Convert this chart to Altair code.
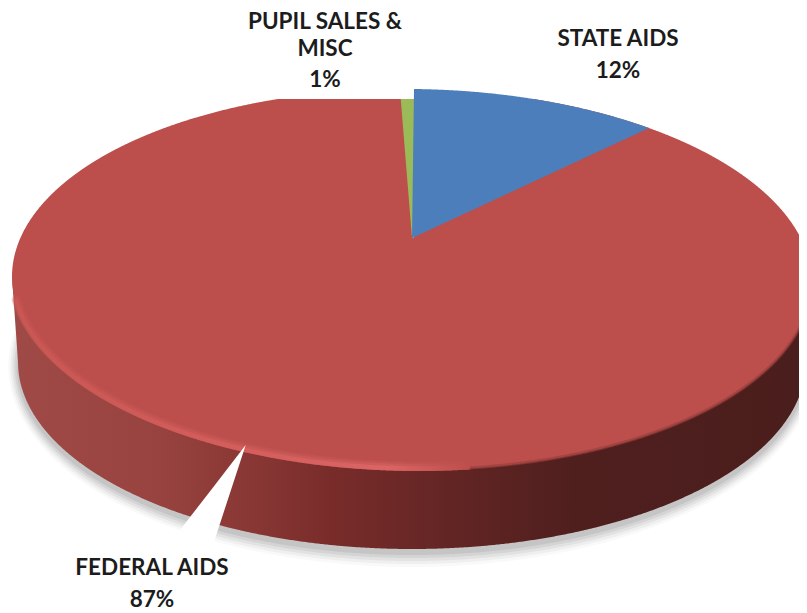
import numpy as np
import pandas as pd
import altair as alt

# ---- chart values ----
categories = ["STATE AIDS", "FEDERAL AIDS", "PUPIL SALES & MISC"]
shares = [12.4, 87.0, 0.6]          # slice sizes
share_labels = ["12%", "87%", "1%"]
colors = ["#4C7EBB", "#BC4F4C", "#9BBB59"]

label_lines = ["PUPIL SALES &", "MISC", "1%", "STATE AIDS", "12%", "FEDERAL AIDS", "87%"]
label_x = [325, 325, 325, 618, 618, 152, 152]
label_y = [22, 49, 80, 39, 71, 568, 600]

# ---- view geometry of the tilted disc (picture pixels) ----
XMAX, H = 799, 613
XC, YC, RX, RY, TILT = 412.0, 280.0, 400.0, 191.0, 0.008
BXC, BYC, BRX, BRY = 412.0, 362.0, 394.0, 187.0
APEX_X, APEX_Y = 412.0, 238.0
CUT_Y = 99.0

X = alt.X("x:Q", scale=alt.Scale(domain=[8, XMAX], nice=False, zero=False), axis=None)
Y = alt.Y("y:Q", scale=alt.Scale(domain=[H, 8], nice=False, zero=False), axis=None)


def half(x, xc, rx, ry):
    return ry * np.sqrt(np.clip(1 - ((x - xc) / rx) ** 2, 0, 1))


def upper(x):
    return YC - half(x, XC, RX, RY) + TILT * (x - XC)


def lower(x):
    return YC + half(x, XC, RX, RY) + TILT * (x - XC)


def xs(a, b, n=500):
    # denser near the ends so that the round edges stay smooth
    t = (1 - np.cos(np.linspace(0, np.pi, n))) / 2
    return a + (b - a) * t


def rim_point(pct):
    # position on the disc edge after going pct percent clockwise from the top
    c = 131.1 / 610.7
    th = np.radians(pct * 3.6)
    u, v = np.sin(th), np.cos(th)
    d = 1 + c * v
    R = 398.0 * np.sqrt(1 - c * c)
    return XC + R * u / d, (-131.1 * v + APEX_Y) / d


def area(df, **kw):
    return alt.Chart(df).mark_area(clip=True, interpolate="linear", **kw).encode(
        x=X, y=Y, y2=alt.Y2("y2:Q")
    )


layers = []

# soft shadow below the disc
for k, op in zip([14, 11, 8, 5, 2], [0.025, 0.04, 0.05, 0.06, 0.07]):
    x = xs(BXC - BRX - k * 0.7, BXC + BRX + k * 0.7)
    h = half(x, BXC, BRX + k * 0.7, BRY + k)
    layers.append(area(pd.DataFrame({"x": x, "y": BYC + 4 - h, "y2": BYC + 4 + h}),
                       color="#000000", opacity=op))

# side wall
x = xs(XC - RX, XC + RX, 800)
y2 = BYC + half(x, BXC, BRX, BRY)
left_edge, right_edge = BXC - BRX, BXC + BRX
yl, yr = lower(XC - RX), lower(XC + RX)
y2 = np.where(x < left_edge, yl + (x - (XC - RX)) / (left_edge - (XC - RX)) * (BYC - yl), y2)
y2 = np.where(x > right_edge, yr + ((XC + RX) - x) / ((XC + RX) - right_edge) * (BYC - yr), y2)
side_stops = [
    alt.GradientStop(offset=0.0, color="#A04A47"),
    alt.GradientStop(offset=0.18, color="#984340"),
    alt.GradientStop(offset=0.29, color="#8A3835"),
    alt.GradientStop(offset=0.40, color="#782C2A"),
    alt.GradientStop(offset=0.55, color="#622524"),
    alt.GradientStop(offset=0.70, color="#4F1F1E"),
    alt.GradientStop(offset=1.0, color="#4A1E1C"),
]
layers.append(area(pd.DataFrame({"x": x, "y": lower(x) - 6, "y2": y2}),
                   fill=alt.Gradient(gradient="linear", x1=0, y1=0, x2=1, y2=0, stops=side_stops)))

# whole top surface: the federal slice, cut flat at the top of the picture
x = xs(XC - RX, XC + RX, 1200)
layers.append(area(pd.DataFrame({"x": x, "y": np.maximum(upper(x), CUT_Y), "y2": lower(x)}),
                   color=colors[1]))

# pupil sales slice
px, _ = rim_point(-shares[2])
slope = (APEX_Y - upper(px)) / (APEX_X - px)
x = np.linspace(px + (CUT_Y - upper(px)) / slope, APEX_X + 2, 30)
y2 = np.minimum(upper(px) + slope * (x - px), APEX_Y)
layers.append(area(pd.DataFrame({"x": x, "y": np.full_like(x, CUT_Y), "y2": y2}), color=colors[2]))

# state aids slice
ex, ey = rim_point(shares[0])
ey = upper(ex)
x = np.concatenate([[APEX_X], np.linspace(APEX_X + 2, ex, 200)])
y = np.concatenate([[APEX_Y], upper(x[1:])])
y2 = APEX_Y + (ey - APEX_Y) * (x - APEX_X) / (ex - APEX_X)
layers.append(area(pd.DataFrame({"x": x, "y": y, "y2": y2}), color=colors[0]))


# rim light on the near left edge, dark edge on the near right
def rim(a, b, inset):
    x = xs(a, b, 300)
    return pd.DataFrame({"x": x, "y": lower(x) - inset, "o": np.arange(len(x))})


light = [
    alt.GradientStop(offset=0.0, color="#CC5855"),
    alt.GradientStop(offset=0.55, color="#D9625F"),
    alt.GradientStop(offset=0.82, color="#E0696A"),
    alt.GradientStop(offset=1.0, color="#BC4F4C"),
]
grad = alt.Gradient(gradient="linear", x1=0, y1=0, x2=1, y2=0, stops=light)
for width, inset, op in [(9, 4.5, 0.2), (7, 3.5, 0.35), (4.5, 2.5, 0.7)]:
    layers.append(alt.Chart(rim(XC - RX + 4, 470, inset)).mark_line(
        clip=True, stroke=grad, strokeWidth=width, opacity=op, strokeCap="round"
    ).encode(x=X, y=Y, order="o:Q"))
for width, inset, op in [(4, 1, 0.25), (2, 0, 0.5)]:
    layers.append(alt.Chart(rim(470, XC + RX, inset)).mark_line(
        clip=True, stroke="#5A2422", strokeWidth=width, opacity=op).encode(x=X, y=Y, order="o:Q"))

# white leader wedge of the federal label
leader_x = [180.0, 213.0, 245.7]
leader_top = [530.0, 487.5, 445.0]
leader_bot = [530.0, 545.0, 445.0]
layers.append(area(pd.DataFrame({"x": leader_x, "y": leader_top, "y2": leader_bot}), color="#FFFFFF"))

# labels
labels = pd.DataFrame({"x": label_x, "y": label_y, "t": label_lines})
layers.append(alt.Chart(labels).mark_text(
    font="Lato", fontWeight="bold", fontSize=22.5, color="#1C1C1C", align="center", baseline="middle"
).encode(x=X, y=Y, text="t:N"))

chart = alt.layer(*layers).properties(
    width=XMAX - 8, height=H - 8, padding=0, autosize="none", background="#FFFFFF"
).configure_view(stroke=None)

chart.save("out.html", embed_options={"renderer": "svg", "actions": False})
